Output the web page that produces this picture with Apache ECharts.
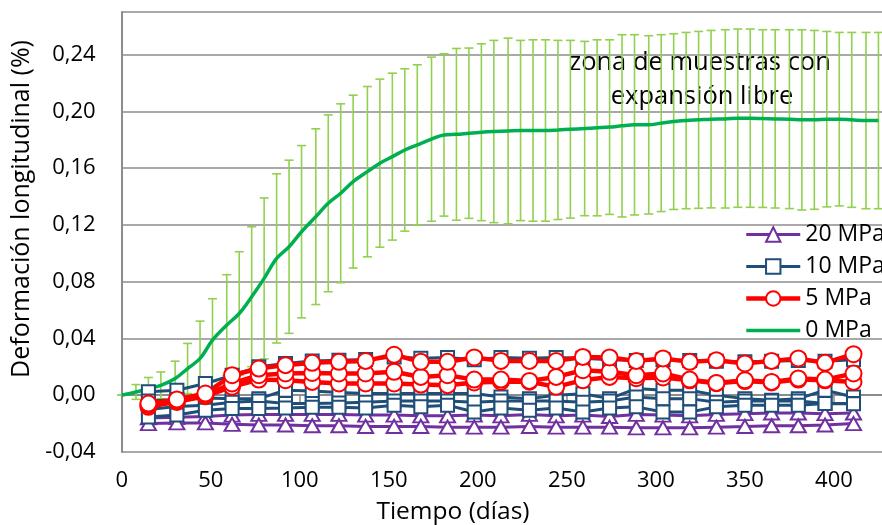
<!DOCTYPE html>
<html>
<head>
<meta charset="utf-8">
<script src="https://cdn.jsdelivr.net/npm/echarts@6/dist/echarts.min.js"></script>
<style>
html,body{margin:0;padding:0;background:#fff;}
#c{width:882px;height:525px;}
</style>
</head>
<body>
<div id="c"></div>
<script>
// ---- data ----
const days0 = [0,8,15,22,30,37,44,51,59,66,73,80,87,94,101,109,116,123,130,138,145,152,159,166,174,181,188,195,202,209,217,224,231,238,245,252,260,267,274,281,288,296,303,310,317,324,331,339,346,353,360,367,375,382,389,396,403,410,418,425];
const mean0 = [0,0.0023,0.0047,0.007,0.0118,0.0188,0.0259,0.0388,0.0494,0.0576,0.0694,0.0823,0.0964,0.1046,0.1152,0.1258,0.1352,0.1423,0.1505,0.1575,
  0.1635,0.1681,0.1728,0.1764,0.1804,0.1834,0.1838,0.1846,0.1853,0.1858,0.1862,0.1865,0.1865,0.1865,0.1869,0.1874,0.1879,0.1884,0.1889,0.1898,
  0.1905,0.1905,0.1917,0.1928,0.1935,0.194,0.1945,0.1947,0.1952,0.1952,0.1949,0.1947,0.1945,0.194,0.194,0.1945,0.1945,0.194,0.1935,0.1935];
const err0 = [0,0.0052,0.0078,0.0094,0.0122,0.0177,0.0263,0.0292,0.0355,0.0435,0.0493,0.0567,0.0596,0.061,0.0607,0.0619,0.0623,0.063,0.0609,0.06,
  0.0592,0.0588,0.0572,0.0564,0.0578,0.0572,0.0605,0.06,0.0623,0.0642,0.0654,0.0635,0.0639,0.0639,0.0631,0.0626,0.0614,0.062,0.0615,0.0642,
  0.0635,0.0628,0.0623,0.0619,0.0621,0.0623,0.0625,0.0628,0.0628,0.0628,0.0626,0.0628,0.063,0.0635,0.063,0.0618,0.0611,0.0616,0.0621,0.0621];

const daysM = [15,31,47,62,77,92,107,122,137,153,168,183,198,213,229,244,259,274,289,304,319,334,350,365,380,395,411];
// 5 MPa replicates
const r5a = [-0.0059,-0.003,0.0012,0.0141,0.0188,0.0212,0.0228,0.0235,0.0242,0.0285,0.0235,0.0235,0.0266,0.0242,0.0242,0.0242,0.027,0.0266,0.0242,0.0259,0.0235,0.0247,0.0224,0.0242,0.0259,0.0228,0.0289];
const r5b = [-0.007,-0.004,0,0.0083,0.0141,0.0153,0.0157,0.0153,0.0153,0.0165,0.0129,0.0141,0.011,0.011,0.0101,0.0129,0.0176,0.0165,0.0141,0.0153,0.011,0.0087,0.0106,0.0094,0.0118,0.011,0.0153];
const r5c = [-0.0082,-0.0047,-0.0007,0.0059,0.011,0.0106,0.0094,0.0083,0.0083,0.0083,0.0075,0.0071,0.009,0.0095,0.0095,0.0059,0.0106,0.0129,0.012,0.0125,0.0105,0.0085,0.01,0.009,0.011,0.0105,0.0094];
// 10 MPa replicates
const r10a = [0.0024,0.0035,0.0083,0.014,0.02,0.0224,0.0242,0.0247,0.0252,0.027,0.026,0.0265,0.025,0.0265,0.026,0.0265,0.026,0.025,0.0245,0.025,0.0245,0.024,0.0235,0.024,0.0245,0.024,0.025];
const r10b = [-0.004,-0.003,-0.002,-0.0024,-0.0024,0.0035,0.003,0.002,0.0012,0.0012,0.0012,0.0012,0.0012,-0.0012,-0.0024,0,0.001,-0.0024,0.0047,0.0035,0.0035,0,-0.0024,-0.0035,-0.0024,0.0035,-0.0012];
const r10c = [-0.01,-0.008,-0.007,-0.005,-0.004,-0.0059,-0.0059,-0.0055,-0.005,-0.004,-0.004,-0.004,-0.005,-0.004,-0.004,-0.004,-0.005,-0.004,-0.0012,-0.0024,-0.0024,-0.005,-0.004,-0.004,-0.004,-0.0059,-0.0059];
const r10d = [-0.0153,-0.014,-0.0106,-0.0094,-0.0094,-0.009,-0.0085,-0.0085,-0.009,-0.007,-0.0082,-0.007,-0.0118,-0.009,-0.0106,-0.009,-0.0118,-0.009,-0.0082,-0.0118,-0.0118,-0.0082,-0.007,-0.007,-0.007,-0.0059,-0.006];
// 20 MPa replicates
const r20a = [-0.016,-0.0155,-0.015,-0.014,-0.0135,-0.0135,-0.0135,-0.0135,-0.014,-0.014,-0.0145,-0.0145,-0.014,-0.0145,-0.0135,-0.0145,-0.014,-0.015,-0.0135,-0.014,-0.0145,-0.0135,-0.013,-0.0125,-0.0125,-0.013,-0.0125];
const r20b = [-0.02,-0.0195,-0.0195,-0.0205,-0.021,-0.021,-0.0215,-0.0215,-0.022,-0.022,-0.022,-0.0225,-0.0225,-0.0225,-0.022,-0.0225,-0.0225,-0.0225,-0.023,-0.023,-0.023,-0.0225,-0.022,-0.0215,-0.0215,-0.021,-0.02];

const legendNames = ['20 MPa','10 MPa','5 MPa','0 MPa'];
const xTicks = [0,50,100,150,200,250,300,350,400];
const yTickStep = 0.04;

// ---- build ----
const FONT = 'Open Sans';
const zip = (xs, ys) => xs.map((x, i) => [x, ys[i]]);

function repSeries(name, ys, color, symbol, size, lw) {
  return {
    name: name, type: 'line', data: zip(daysM, ys),
    color: color,
    symbol: symbol, symbolSize: size, showAllSymbol: true,
    lineStyle: { color: color, width: lw },
    itemStyle: { color: '#fff', borderColor: color, borderWidth: 2 },
    emphasis: { disabled: true }, animation: false
  };
}

const PURPLE = '#7030A0', BLUE = '#1F4E79', RED = '#FF0000', GREEN = '#00B050', LGREEN = '#92D050';

const series = [
  {
    name: 'err', type: 'custom', data: days0.map((d, i) => [d, mean0[i], err0[i]]),
    z: 1, animation: false, clip: false,
    renderItem: function (params, api) {
      const x = api.value(0), y = api.value(1), e = api.value(2);
      const t = api.coord([x, y + e]);
      const b = api.coord([x, y - e]);
      const hw = 4.5;
      const st = { stroke: LGREEN, lineWidth: 1.6 };
      return { type: 'group', children: [
        { type: 'line', shape: { x1: t[0], y1: t[1], x2: b[0], y2: b[1] }, style: st },
        { type: 'line', shape: { x1: t[0] - hw, y1: t[1], x2: t[0] + hw, y2: t[1] }, style: st },
        { type: 'line', shape: { x1: b[0] - hw, y1: b[1], x2: b[0] + hw, y2: b[1] }, style: st }
      ]};
    }
  },
  repSeries('20 MPa', r20a, PURPLE, 'triangle', [15, 13], 3),
  repSeries('20 MPa', r20b, PURPLE, 'triangle', [15, 13], 3),
  repSeries('10 MPa', r10a, BLUE, 'rect', 13, 3),
  repSeries('10 MPa', r10b, BLUE, 'rect', 13, 3),
  repSeries('10 MPa', r10c, BLUE, 'rect', 13, 3),
  repSeries('10 MPa', r10d, BLUE, 'rect', 13, 3),
  repSeries('5 MPa', r5c, RED, 'circle', 16, 4.5),
  repSeries('5 MPa', r5b, RED, 'circle', 16, 4.5),
  repSeries('5 MPa', r5a, RED, 'circle', 16, 4.5),
  {
    name: '0 MPa', type: 'line', data: zip(days0, mean0), color: GREEN,
    symbol: 'none', smooth: 0.35,
    lineStyle: { color: GREEN, width: 3.5 },
    emphasis: { disabled: true }, animation: false, z: 3
  }
];

const chart = echarts.init(document.getElementById('c'), null, { renderer: 'canvas' });
chart.setOption({
  animation: false,
  backgroundColor: '#fff',
  textStyle: { fontFamily: FONT },
  grid: { left: 121.7, top: 12, bottom: 73, right: 0, containLabel: false },
  xAxis: {
    type: 'value', min: 0, max: 427,
    axisLine: { show: true, lineStyle: { color: '#8c8c8c', width: 2 } },
    axisTick: { show: true, length: 8, customValues: xTicks, lineStyle: { color: '#8c8c8c', width: 1.5 } },
    axisLabel: { color: '#000', fontSize: 22, fontFamily: FONT, margin: 18, customValues: xTicks },
    splitLine: { show: false }
  },
  yAxis: {
    type: 'value', min: -0.04, max: 0.27, interval: yTickStep,
    axisLine: { show: true, onZero: false, lineStyle: { color: '#8c8c8c', width: 2 } },
    axisTick: { show: false },
    axisLabel: {
      color: '#000', fontSize: 22, fontFamily: FONT, margin: 26,
      formatter: function (v) {
        const k = Math.round(v / yTickStep);
        if (Math.abs(k * yTickStep - v) > 1e-6) return '';
        return (k * yTickStep).toFixed(2).replace('.', ',');
      }
    },
    splitLine: { show: true, lineStyle: { color: '#8c8c8c', width: 1.5 } }
  },
  legend: {
    data: [
      { name: legendNames[0] }, { name: legendNames[1] }, { name: legendNames[2] },
      { name: legendNames[3], itemStyle: { opacity: 0 } }
    ],
    orient: 'vertical', left: 739, top: 218,
    itemWidth: 54, itemHeight: 18, itemGap: 9,
    lineStyle: { width: 'inherit' },
    textStyle: { fontSize: 23, fontFamily: FONT, color: '#000' },
    selectedMode: false
  },
  graphic: [
    { type: 'text', x: 700, y: 63, style: { text: 'zona de muestras con', font: '25.5px "Open Sans"', fill: '#000', textAlign: 'center', textVerticalAlign: 'middle' } },
    { type: 'text', x: 702, y: 97, style: { text: 'expansión libre', font: '25.5px "Open Sans"', fill: '#000', textAlign: 'center', textVerticalAlign: 'middle' } },
    { type: 'text', x: 453, y: 512, style: { text: 'Tiempo (días)', font: '24.5px "Open Sans"', fill: '#000', textAlign: 'center', textVerticalAlign: 'middle' } },
    { type: 'text', x: 22, y: 209, rotation: Math.PI / 2, style: { text: 'Deformación longitudinal (%)', font: '25px "Open Sans"', fill: '#000', textAlign: 'center', textVerticalAlign: 'middle' } }
  ],
  series: series
});
</script>
</body>
</html>
